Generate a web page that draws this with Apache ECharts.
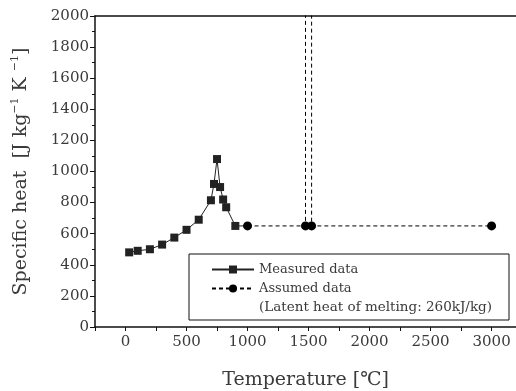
<!DOCTYPE html>
<html>
<head>
<meta charset="utf-8">
<script src="https://cdn.jsdelivr.net/npm/echarts@6/dist/echarts.min.js"></script>
<style>
  html, body { margin: 0; padding: 0; background: #fff; }
  #chart { width: 516px; height: 391px; }
</style>
</head>
<body>
<div id="chart"></div>
<script>
// measured specific heat (solid line, squares)
var measuredTemp = [30, 100, 200, 300, 400, 500, 600, 700, 725, 750, 775, 800, 825, 900, 1000];
var measuredCp = [480, 490, 500, 530, 575, 625, 690, 815, 920, 1080, 900, 820, 770, 650, 650];

// assumed data (dashed line, circles), latent heat spike goes off the top
var assumedTemp = [1000, 1475, 1475, 1525, 1525, 3000];
var assumedCp = [650, 650, 5850, 5850, 650, 650];

var xTicks = [0, 500, 1000, 1500, 2000, 2500, 3000];
var yTicks = [0, 200, 400, 600, 800, 1000, 1200, 1400, 1600, 1800, 2000];

var serif = 'DejaVu Serif';
var ink = '#111';
var txt = '#3a3a3a';

function pairs(xs, ys, last) {
    return xs.map(function (x, i) {
        var item = { value: [x, ys[i]] };
        if (ys[i] > 2000 || (last && i === xs.length - 1)) item.symbol = 'none';
        return item;
    });
}

var chart = echarts.init(document.getElementById('chart'), null, { renderer: 'canvas' });

chart.setOption({
    animation: false,
    backgroundColor: '#fff',
    grid: { left: 95, right: 0, top: 16, bottom: 64, outerBoundsMode: 'none', containLabel: false },
    xAxis: [{
        type: 'value',
        min: -250,
        max: 3200,
        interval: 250,
        name: 'Temperature [\u2103]',
        nameLocation: 'middle',
        nameGap: 44,
        nameTextStyle: { fontFamily: serif + ', Noto Sans CJK KR', fontSize: 19, color: txt },
        axisLine: { onZero: false, lineStyle: { color: ink, width: 1.5 } },
        axisTick: { length: 4, lineStyle: { color: ink } },
        axisLabel: {
            fontFamily: serif, fontSize: 15, color: txt, margin: 8,
            formatter: function (v) { return xTicks.indexOf(v) >= 0 ? String(v) : ''; }
        },
        splitLine: { show: false }
    }, {
        type: 'value',
        position: 'top',
        min: -250,
        max: 3200,
        axisLine: { show: true, onZero: false, lineStyle: { color: ink, width: 1.5 } },
        axisTick: { show: false },
        axisLabel: { show: false },
        splitLine: { show: false }
    }],
    yAxis: {
        type: 'value',
        min: 0,
        max: 2000,
        interval: 200,
        name: '{t|Specific heat  [J kg}{s|\u22121}{t| K }{s|\u22121}{t|]}',
        nameLocation: 'middle',
        nameGap: 63,
        nameRotate: 90,
        nameTextStyle: {
            color: txt,
            rich: {
                t: { fontFamily: serif, fontSize: 19, color: txt, lineHeight: 22 },
                s: { fontFamily: serif, fontSize: 11, color: txt, lineHeight: 22, verticalAlign: 'top' }
            }
        },
        axisLine: { show: true, onZero: false, lineStyle: { color: ink, width: 1.5 } },
        axisTick: { show: true, length: 5, lineStyle: { color: ink } },
        minorTick: { show: true, splitNumber: 2, length: 3, lineStyle: { color: ink } },
        axisLabel: {
            fontFamily: serif, fontSize: 15, color: txt, margin: 6,
            formatter: function (v) { return yTicks.indexOf(v) >= 0 ? String(v) : ''; }
        },
        splitLine: { show: false }
    },
    legend: {
        orient: 'vertical',
        left: 206,
        top: 258,
        itemWidth: 42,
        itemHeight: 10,
        itemGap: 6,
        textStyle: { fontFamily: serif, fontSize: 13, color: txt },
        data: ['Measured data', 'Assumed data']
    },
    graphic: [{
        type: 'rect',
        shape: { x: 189, y: 254, width: 320, height: 66 },
        style: { fill: '#fff', stroke: ink, lineWidth: 1 },
        z: 0
    }, {
        type: 'text',
        left: 259,
        top: 300,
        style: {
            text: '(Latent heat of melting: 260kJ/kg)',
            font: '13.5px "' + serif + '"',
            fill: txt
        },
        z: 10
    }],
    series: [{
        name: 'Measured data',
        type: 'line',
        xAxisIndex: 0,
        data: pairs(measuredTemp, measuredCp, true),
        symbol: 'rect',
        symbolSize: 8,
        itemStyle: { color: '#222' },
        lineStyle: { color: '#222', width: 1 },
        z: 3
    }, {
        name: 'Assumed data',
        type: 'line',
        xAxisIndex: 0,
        data: pairs(assumedTemp, assumedCp, false),
        symbol: 'circle',
        symbolSize: 9,
        itemStyle: { color: '#000' },
        lineStyle: { color: '#000', width: 1, type: [4, 3] },
        z: 4
    }]
});
</script>
</body>
</html>
